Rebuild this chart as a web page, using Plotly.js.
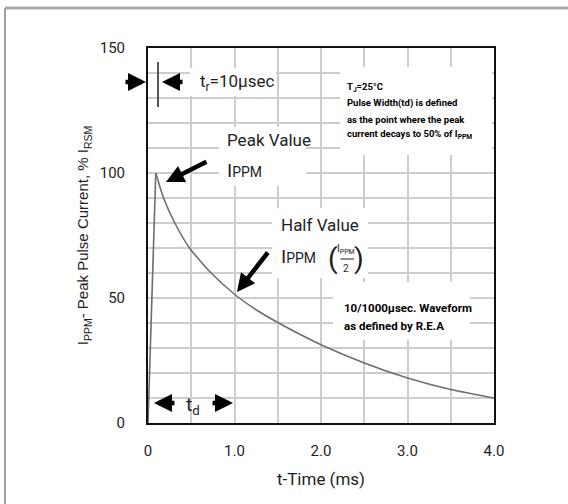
<!DOCTYPE html>
<html>
<head>
<meta charset="utf-8">
<script src="https://cdn.plot.ly/plotly-3.0.1.min.js"></script>
<style>
  html, body { margin: 0; padding: 0; background: #fff; }
  #chart { width: 568px; height: 504px; }
</style>
</head>
<body>
<div id="chart"></div>
<script>
// ---- data ----
const timeMs     = [0, 0.09, 0.18, 0.31, 0.48, 0.73, 1.0, 1.25, 1.5, 1.75, 2.0, 2.5, 3.0, 3.5, 4.0];
const currentPct = [0, 100, 90, 80, 70, 60, 51.5, 45.3, 40.2, 35.6, 31.3, 24, 18, 13.4, 10];
const peakIndex = 1;

// tick / grid positions and their labels (blank label = grid line only)
const xTickVals = [0, 0.5, 1, 1.5, 2, 2.5, 3, 3.5, 4];
const xTickText = ["0", "", "1.0", "", "2.0", "", "3.0", "", "4.0"];
const yTickVals = [0, 10, 20, 30, 40, 50, 60, 70, 80, 90, 100, 110, 120, 130, 140, 150];
const yTickText = ["0", "", "", "", "", "50", "", "", "", "", "100", "", "", "", "", "150"];

const noteLines = ["T<sub>J</sub>=25°C", "Pulse Width(td) is defined", "as the point where the peak", "current decays to 50% of I<sub>PPM</sub>"];
const waveLines = ["10/1000µsec. Waveform", "as defined by R.E.A"];

// ---- layout helpers (pixel -> paper) ----
const L = 148, R = 74, T = 48, B = 81, W = 568, H = 504;
const PW = W - L - R, PH = H - T - B;
const X = px => (px - L) / PW;
const Y = py => (H - B - py) / PH;

const NARROW = "Roboto, Lato, 'Liberation Sans', sans-serif";
const SANS = "'Liberation Sans', Arial, Helvetica, sans-serif";
const INK = "#1e1e1e";
const GRID = "#cdcdcd";

const traces = [
  { x: timeMs.slice(0, peakIndex + 1), y: currentPct.slice(0, peakIndex + 1),
    mode: "lines", line: { color: "#6e6e6e", width: 1.6 }, hoverinfo: "skip", showlegend: false },
  { x: timeMs.slice(peakIndex), y: currentPct.slice(peakIndex),
    mode: "lines", line: { color: "#6e6e6e", width: 1.6, shape: "spline", smoothing: 0.6 }, hoverinfo: "skip", showlegend: false }
];

function txt(text, px, py, size, opts) {
  return Object.assign({
    xref: "paper", yref: "paper", x: X(px), y: Y(py), text: text, showarrow: false,
    xanchor: "left", yanchor: "middle", font: { family: NARROW, size: size, color: INK }
  }, opts || {});
}
function arrow(hx, hy, ax, ay) {
  return { xref: "paper", yref: "paper", x: X(hx), y: Y(hy), ax: ax, ay: ay, text: "",
    showarrow: true, arrowhead: 2, arrowsize: 0.8, arrowwidth: 4.5, arrowcolor: "#000" };
}
// white patch that hides the grid behind a text block
function whiteBox(x0, y0, x1, y1) {
  return { xref: "paper", yref: "paper", x: X(x0), y: Y(y0), xanchor: "left", yanchor: "top",
    text: " ", showarrow: false, width: x1 - x0, height: y1 - y0, bgcolor: "#ffffff",
    borderpad: 0, borderwidth: 0, font: { size: 2, color: "#fff" } };
}

const annotations = [
  whiteBox(190, 68, 276, 96),
  whiteBox(219, 127, 306, 186),
  whiteBox(272, 208, 368, 278),
  whiteBox(340, 67, 492, 155),
  whiteBox(333, 282, 470, 340),
  txt("t<sub>r</sub>=10µsec", 198, 82, 17),
  txt("Peak Value", 225, 140, 17),
  txt("I<span style='font-size:14px'>PPM</span>", 225, 170, 19),
  txt("Half Value", 279, 225, 17),
  txt("I<span style='font-size:14px'>PPM</span>", 279, 256, 19),
  txt("(", 333, 258, 28, { xanchor: "center" }),
  txt("I<sub>PPM</sub>", 346, 250, 10, { xanchor: "center" }),
  txt("2", 346, 268, 10, { xanchor: "center" }),
  txt(")", 359, 258, 28, { xanchor: "center" }),
  // fraction bar
  { xref: "paper", yref: "paper", x: X(354), y: Y(259), ax: -15, ay: 0, text: "",
    showarrow: true, arrowhead: 0, arrowwidth: 1, arrowcolor: INK },
  txt("t<sub>d</sub>", 193, 405, 19, { xanchor: "center" }),
  arrow(146, 82, -22, 0),
  arrow(162, 82, 22, 0),
  arrow(166, 182, 42, -21),
  arrow(237, 292, 32, -41),
  arrow(154, 403, 22, 0),
  arrow(233, 403, -22, 0)
];
const noteY = [87, 103, 119, 134];
noteLines.forEach((s, i) => annotations.push(txt(s, 345, noteY[i], 9.5, { font: { family: NARROW, size: 9.5, color: "#000", weight: "bold" } })));
const waveY = [308, 326];
waveLines.forEach((s, i) => annotations.push(txt(s, 342, waveY[i], 11.5, { font: { family: NARROW, size: 11.5, color: "#000", weight: "bold" } })));

const shapes = [
  // t_r marker bar
  { type: "line", xref: "paper", yref: "paper", x0: X(158), x1: X(158), y0: Y(107), y1: Y(62), line: { color: "#555", width: 2 } },
  // outer frame (top and left)
  { type: "line", xref: "paper", yref: "paper", x0: X(5), x1: X(570), y0: Y(8), y1: Y(8), line: { color: "#a6a6a6", width: 3 } },
  { type: "line", xref: "paper", yref: "paper", x0: X(5), x1: X(5), y0: Y(8), y1: Y(506), line: { color: "#a0a0a0", width: 2 } }
];

const layout = {
  width: W, height: H,
  margin: { l: L, r: R, t: T, b: B, pad: 0 },
  paper_bgcolor: "#fff", plot_bgcolor: "#fff",
  showlegend: false,
  xaxis: {
    range: [0, 4], tickmode: "array", tickvals: xTickVals, ticktext: xTickText,
    showgrid: true, gridcolor: GRID, gridwidth: 2,
    showline: true, mirror: true, linecolor: "#111", linewidth: 2, ticks: "", zeroline: false,
    tickfont: { family: NARROW, size: 15, color: INK }, ticklabelstandoff: 13,
    title: { text: "t-Time (ms)", font: { family: NARROW, size: 17, color: INK }, standoff: 14 },
    fixedrange: true
  },
  yaxis: {
    range: [0, 150], tickmode: "array", tickvals: yTickVals, ticktext: yTickText,
    showgrid: true, gridcolor: GRID, gridwidth: 2,
    showline: true, mirror: true, linecolor: "#111", linewidth: 2, ticks: "", zeroline: false,
    tickfont: { family: NARROW, size: 15, color: INK }, ticklabelstandoff: 18,
    title: { text: "I<sub>PPM</sub>- Peak Pulse Current, % I<sub>RSM</sub>", font: { family: SANS, size: 15, color: INK }, standoff: 7 },
    fixedrange: true
  },
  annotations: annotations,
  shapes: shapes
};

Plotly.newPlot("chart", traces, layout, { staticPlot: true, displayModeBar: false });
</script>
</body>
</html>
